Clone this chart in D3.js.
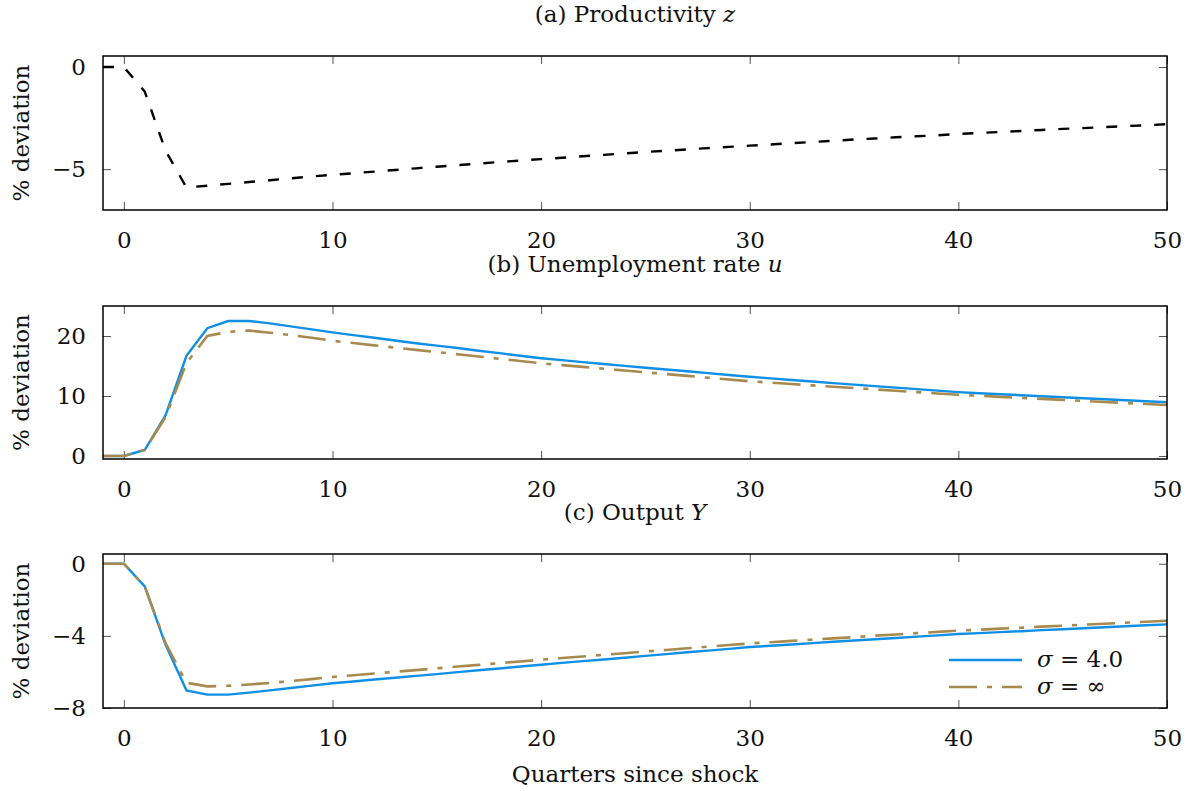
<!DOCTYPE html>
<head>
    <meta charset="utf-8">
    <title>Impulse responses</title>
    <script src="https://d3js.org/d3.v7.min.js" charset="utf-8"></script>
    <style>
        body { margin: 0; background: #fff; }
        svg text { font-family: "DejaVu Serif", serif; fill: #111; }
    </style>
</head>

<body>
    <div class="chart"></div>
    <script type="text/javascript">

        const quarters = [-1, 0, 1, 2, 3, 4, 5, 6, 7, 8, 9, 10, 11, 12, 13, 14, 15, 16, 17, 18, 19, 20,
            21, 22, 23, 24, 25, 26, 27, 28, 29, 30, 31, 32, 33, 34, 35, 36, 37, 38, 39, 40,
            41, 42, 43, 44, 45, 46, 47, 48, 49, 50]

        // (a) productivity z
        const productivity = [0, 0, -1.2, -4.1, -5.9, -5.81, -5.72, -5.63, -5.54, -5.45, -5.36, -5.28,
            -5.20, -5.12, -5.04, -4.96, -4.88, -4.80, -4.73, -4.65, -4.58, -4.51,
            -4.44, -4.37, -4.30, -4.23, -4.16, -4.10, -4.03, -3.97, -3.91, -3.85,
            -3.79, -3.73, -3.67, -3.61, -3.55, -3.50, -3.44, -3.39, -3.34, -3.28,
            -3.23, -3.18, -3.13, -3.08, -3.03, -2.99, -2.94, -2.89, -2.85, -2.80]

        // (b) unemployment rate u
        const unempSigma4 = [0, 0, 1.0, 6.8, 16.7, 21.3, 22.5, 22.5, 22.1, 21.6, 21.1, 20.6,
            20.15, 19.7, 19.25, 18.8, 18.4, 18.0, 17.55, 17.15, 16.7, 16.3,
            15.97, 15.65, 15.33, 15.02, 14.72, 14.42, 14.12, 13.82, 13.5, 13.2,
            12.93, 12.67, 12.41, 12.15, 11.9, 11.65, 11.4, 11.15, 10.9, 10.65,
            10.47, 10.3, 10.13, 9.96, 9.79, 9.62, 9.45, 9.29, 9.12, 8.95]
        const unempSigmaInf = [0, 0, 1.0, 6.5, 15.5, 20.0, 20.7, 20.9, 20.55, 20.15, 19.7, 19.2,
            18.82, 18.44, 18.06, 17.69, 17.32, 16.95, 16.59, 16.2, 15.82, 15.45,
            15.15, 14.85, 14.55, 14.25, 13.95, 13.65, 13.35, 13.05, 12.75, 12.45,
            12.22, 12.0, 11.77, 11.55, 11.32, 11.1, 10.87, 10.65, 10.42, 10.2,
            10.03, 9.86, 9.69, 9.52, 9.35, 9.18, 9.01, 8.84, 8.67, 8.5]

        // (c) output Y
        const outputSigma4 = [0, 0, -1.26, -4.5, -7.02, -7.26, -7.26, -7.15, -7.02, -6.89, -6.76, -6.63,
            -6.53, -6.42, -6.32, -6.22, -6.12, -6.01, -5.91, -5.81, -5.7, -5.6,
            -5.5, -5.4, -5.31, -5.21, -5.11, -5.01, -4.91, -4.82, -4.72, -4.62,
            -4.55, -4.48, -4.4, -4.33, -4.26, -4.19, -4.12, -4.04, -3.97, -3.9,
            -3.85, -3.79, -3.74, -3.68, -3.63, -3.58, -3.52, -3.47, -3.41, -3.36]
        const outputSigmaInf = [0, 0, -1.26, -4.4, -6.6, -6.8, -6.77, -6.7, -6.61, -6.51, -6.4, -6.28,
            -6.18, -6.09, -5.99, -5.9, -5.8, -5.7, -5.61, -5.51, -5.42, -5.32,
            -5.23, -5.14, -5.05, -4.96, -4.87, -4.78, -4.69, -4.6, -4.51, -4.42,
            -4.35, -4.28, -4.21, -4.14, -4.07, -3.99, -3.92, -3.85, -3.78, -3.71,
            -3.66, -3.6, -3.55, -3.49, -3.44, -3.38, -3.33, -3.27, -3.22, -3.16]

        const xTicks = [0, 10, 20, 30, 40, 50]
        const yTicksA = [0, -5]
        const yTicksB = [0, 10, 20]
        const yTicksC = [0, -4, -8]

        const w = 1188
        const h = 791
        const left = 103
        const right = 1167
        const fontSize = 23

        const blue = '#0f8fe6'
        const brown = '#a88a4e'

        const svg = d3.select('.chart')
            .append('svg')
            .attr('width', w)
            .attr('height', h)

        const xScale = d3.scaleLinear()
            .domain([-1, 50])
            .range([left, right])

        const panels = [
            { title: ['(a) Productivity ', 'z'], top: 56, bottom: 210, domain: [-7, 0.54], ticks: yTicksA,
              series: [{ values: productivity, color: '#000', dash: '11,13', width: 2.4 }] },
            { title: ['(b) Unemployment rate ', 'u'], top: 306, bottom: 459, domain: [-0.5, 25], ticks: yTicksB,
              series: [{ values: unempSigma4, color: blue, dash: null, width: 2.4 },
                       { values: unempSigmaInf, color: brown, dash: '28,10,5,10', width: 2.6 }] },
            { title: ['(c) Output ', 'Y'], top: 554, bottom: 708, domain: [-8, 0.54], ticks: yTicksC,
              series: [{ values: outputSigma4, color: blue, dash: null, width: 2.4 },
                       { values: outputSigmaInf, color: brown, dash: '28,10,5,10', width: 2.6 }] }
        ]

        panels.forEach((p) => {
            const yScale = d3.scaleLinear()
                .domain(p.domain)
                .range([p.bottom, p.top])

            const g = svg.append('g')

            // ticks on all four sides, pointing in
            const xAxis = d3.axisBottom(xScale).tickValues(xTicks).tickSize(-8).tickPadding(22)
            const xAxisTop = d3.axisTop(xScale).tickValues(xTicks).tickSize(-8).tickFormat('')
            const yAxis = d3.axisLeft(yScale).tickValues(p.ticks).tickSize(-8).tickPadding(17)
                .tickFormat(d3.format('d'))
            const yAxisRight = d3.axisRight(yScale).tickValues(p.ticks).tickSize(-8).tickFormat('')

            g.append('g').attr('transform', 'translate(0,' + p.bottom + ')').call(xAxis)
            g.append('g').attr('transform', 'translate(0,' + p.top + ')').call(xAxisTop)
            g.append('g').attr('transform', 'translate(' + left + ',0)').call(yAxis)
            g.append('g').attr('transform', 'translate(' + right + ',0)').call(yAxisRight)

            g.selectAll('.domain').remove()
            g.selectAll('.tick line').attr('stroke', '#555').attr('stroke-width', 1)
            g.selectAll('.tick text')
                .attr('font-size', fontSize)
                .attr('font-family', '"DejaVu Serif", serif')
                .attr('fill', '#111')

            const line = d3.line()
                .x((d, i) => xScale(quarters[i]))
                .y((d) => yScale(d))

            p.series.forEach((s) => {
                g.append('path')
                    .datum(s.values)
                    .attr('d', line)
                    .attr('fill', 'none')
                    .attr('stroke', s.color)
                    .attr('stroke-width', s.width)
                    .attr('stroke-dasharray', s.dash)
            })

            // frame
            g.append('rect')
                .attr('x', left)
                .attr('y', p.top)
                .attr('width', right - left)
                .attr('height', p.bottom - p.top)
                .attr('fill', 'none')
                .attr('stroke', '#000')
                .attr('stroke-width', 1.5)

            // panel title
            const t = g.append('text')
                .attr('x', (left + right) / 2)
                .attr('y', p.top - 34)
                .attr('text-anchor', 'middle')
                .attr('font-size', fontSize)
            t.append('tspan').text(p.title[0])
            t.append('tspan').attr('font-style', 'italic').text(p.title[1])

            // y label
            g.append('text')
                .attr('transform', 'translate(29,' + (p.top + p.bottom) / 2 + ') rotate(-90)')
                .attr('text-anchor', 'middle')
                .attr('font-size', fontSize)
                .text('% deviation')
        })

        // legend in panel (c)
        const legend = [
            { label: '= 4.0', color: blue, dash: null, width: 2.4 },
            { label: '= \u221E', color: brown, dash: '28,10,5,10', width: 2.6 }
        ]
        legend.forEach((d, i) => {
            const y = 660 + i * 27
            svg.append('line')
                .attr('x1', 949).attr('x2', 1022)
                .attr('y1', y).attr('y2', y)
                .attr('stroke', d.color)
                .attr('stroke-width', d.width)
                .attr('stroke-dasharray', d.dash)
            const t = svg.append('text')
                .attr('x', 1037)
                .attr('y', y + 7)
                .attr('font-size', fontSize)
            t.append('tspan').attr('font-style', 'italic').text('\u03C3')
            t.append('tspan').text(' ' + d.label)
        })

        // x axis label
        svg.append('text')
            .attr('x', (left + right) / 2)
            .attr('y', 782)
            .attr('text-anchor', 'middle')
            .attr('font-size', fontSize)
            .text('Quarters since shock')

    </script>
</body>
